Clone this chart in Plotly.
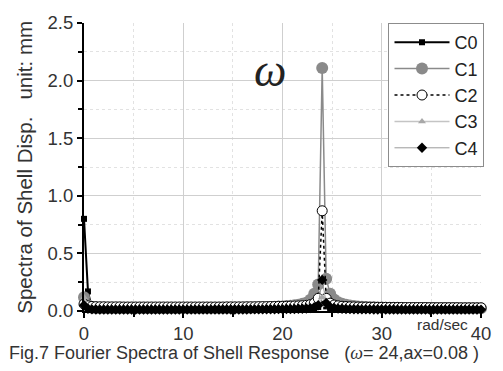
import plotly.graph_objects as go

# Frequency axis, rad/sec (step 0.4)
freq = [round(0.4 * k, 1) for k in range(101)]

# Spectral amplitudes of shell displacement, mm
c0 = [0.80, 0.17, 0.020, 0.012, 0.011, 0.010, 0.010, 0.011, 0.010, 0.010,
      0.010, 0.011, 0.010, 0.010, 0.011, 0.010, 0.010, 0.011, 0.010, 0.010,
      0.010, 0.011, 0.010, 0.010, 0.011, 0.010, 0.010, 0.011, 0.010, 0.010,
      0.010, 0.011, 0.010, 0.011, 0.011, 0.010, 0.011, 0.011, 0.010, 0.011,
      0.011, 0.011, 0.012, 0.011, 0.012, 0.012, 0.012, 0.013, 0.013, 0.013,
      0.014, 0.014, 0.015, 0.016, 0.017, 0.018, 0.020, 0.022, 0.026, 0.035,
      0.100, 0.040, 0.026, 0.021, 0.018, 0.016, 0.015, 0.014, 0.013, 0.013,
      0.012, 0.012, 0.012, 0.011, 0.011, 0.011, 0.011, 0.011, 0.010, 0.010,
      0.010, 0.010, 0.010, 0.010, 0.010, 0.010, 0.010, 0.010, 0.010, 0.010,
      0.010, 0.010, 0.010, 0.010, 0.010, 0.010, 0.010, 0.010, 0.010, 0.010,
      0.010]

c1 = [0.12, 0.05, 0.028, 0.025, 0.024, 0.024, 0.023, 0.023, 0.023, 0.023,
      0.023, 0.023, 0.023, 0.023, 0.023, 0.023, 0.023, 0.023, 0.024, 0.024,
      0.024, 0.024, 0.024, 0.024, 0.024, 0.025, 0.025, 0.025, 0.025, 0.025,
      0.025, 0.026, 0.026, 0.026, 0.026, 0.027, 0.027, 0.027, 0.028, 0.028,
      0.028, 0.029, 0.029, 0.030, 0.031, 0.032, 0.033, 0.034, 0.036, 0.038,
      0.040, 0.043, 0.046, 0.050, 0.055, 0.062, 0.072, 0.098, 0.150, 0.230,
      2.110, 0.280, 0.150, 0.100, 0.076, 0.062, 0.054, 0.048, 0.043, 0.040,
      0.037, 0.035, 0.033, 0.032, 0.031, 0.030, 0.029, 0.029, 0.028, 0.028,
      0.027, 0.027, 0.026, 0.026, 0.026, 0.025, 0.025, 0.025, 0.025, 0.024,
      0.024, 0.024, 0.024, 0.024, 0.023, 0.023, 0.023, 0.023, 0.023, 0.023,
      0.023]

c2 = [0.060, 0.045, 0.040, 0.038, 0.037, 0.037, 0.036, 0.036, 0.036, 0.036,
      0.035, 0.035, 0.035, 0.035, 0.035, 0.035, 0.035, 0.035, 0.035, 0.035,
      0.035, 0.035, 0.035, 0.035, 0.035, 0.035, 0.035, 0.035, 0.035, 0.035,
      0.035, 0.035, 0.035, 0.035, 0.035, 0.035, 0.036, 0.036, 0.036, 0.036,
      0.036, 0.037, 0.037, 0.037, 0.038, 0.038, 0.038, 0.039, 0.039, 0.040,
      0.040, 0.041, 0.042, 0.043, 0.044, 0.046, 0.049, 0.055, 0.068, 0.110,
      0.870, 0.110, 0.068, 0.052, 0.045, 0.041, 0.039, 0.037, 0.036, 0.035,
      0.034, 0.034, 0.033, 0.033, 0.032, 0.032, 0.032, 0.031, 0.031, 0.031,
      0.031, 0.030, 0.030, 0.030, 0.030, 0.030, 0.030, 0.029, 0.029, 0.029,
      0.029, 0.029, 0.029, 0.029, 0.029, 0.028, 0.028, 0.028, 0.028, 0.028,
      0.028]

c3 = [0.12, 0.040, 0.022, 0.020, 0.020, 0.019, 0.019, 0.019, 0.019, 0.019,
      0.019, 0.019, 0.019, 0.019, 0.019, 0.019, 0.019, 0.019, 0.019, 0.019,
      0.019, 0.019, 0.019, 0.019, 0.019, 0.019, 0.019, 0.019, 0.019, 0.019,
      0.019, 0.019, 0.019, 0.020, 0.020, 0.020, 0.020, 0.020, 0.020, 0.020,
      0.020, 0.020, 0.021, 0.021, 0.021, 0.021, 0.022, 0.022, 0.022, 0.023,
      0.023, 0.024, 0.024, 0.025, 0.026, 0.027, 0.029, 0.031, 0.035, 0.045,
      0.120, 0.050, 0.036, 0.030, 0.027, 0.025, 0.024, 0.023, 0.022, 0.022,
      0.021, 0.021, 0.021, 0.020, 0.020, 0.020, 0.020, 0.020, 0.020, 0.019,
      0.019, 0.019, 0.019, 0.019, 0.019, 0.019, 0.019, 0.019, 0.019, 0.019,
      0.019, 0.019, 0.019, 0.019, 0.019, 0.019, 0.019, 0.019, 0.019, 0.019,
      0.019]

c4 = [0.050, 0.020, 0.014, 0.013, 0.012, 0.012, 0.012, 0.012, 0.012, 0.012,
      0.012, 0.012, 0.012, 0.012, 0.012, 0.012, 0.012, 0.012, 0.012, 0.012,
      0.012, 0.012, 0.012, 0.012, 0.012, 0.012, 0.012, 0.012, 0.012, 0.012,
      0.012, 0.012, 0.012, 0.013, 0.013, 0.013, 0.013, 0.013, 0.013, 0.013,
      0.013, 0.013, 0.014, 0.014, 0.014, 0.014, 0.015, 0.015, 0.015, 0.016,
      0.016, 0.017, 0.017, 0.018, 0.019, 0.020, 0.022, 0.025, 0.032, 0.050,
      0.270, 0.070, 0.035, 0.026, 0.021, 0.019, 0.017, 0.016, 0.015, 0.015,
      0.014, 0.014, 0.014, 0.013, 0.013, 0.013, 0.013, 0.013, 0.013, 0.012,
      0.012, 0.012, 0.012, 0.012, 0.012, 0.012, 0.012, 0.012, 0.012, 0.012,
      0.012, 0.012, 0.012, 0.012, 0.012, 0.012, 0.012, 0.012, 0.012, 0.012,
      0.012]

series = [
    ("C0", c0, dict(color="black", width=2, dash="solid"),
     dict(symbol="square", size=6, color="black")),
    ("C1", c1, dict(color="#8a8a8a", width=1.5, dash="solid"),
     dict(symbol="circle", size=12, color="#8a8a8a")),
    ("C2", c2, dict(color="black", width=1.5, dash="dot"),
     dict(symbol="circle", size=10, color="white",
          line=dict(color="black", width=1))),
    ("C3", c3, dict(color="#c4c4c4", width=1.5, dash="solid"),
     dict(symbol="triangle-up", size=7, color="#a8a8a8")),
    ("C4", c4, dict(color="#9a9a9a", width=1, dash="solid"),
     dict(symbol="diamond", size=8, color="black")),
]

fig = go.Figure()
for name, vals, ln, mk in series:
    fig.add_trace(go.Scatter(
        x=freq, y=vals, name=name, mode="lines+markers",
        line=ln, marker=mk, cliponaxis=False,
        legendgroup=name,
    ))

sans = "Liberation Sans, Arial, sans-serif"
tick_font = dict(family=sans, size=18.5, color="#333")

fig.update_layout(
    width=503, height=371,
    margin=dict(l=84, r=17, t=15, b=60),
    paper_bgcolor="white", plot_bgcolor="white",
    showlegend=True,
    legend=dict(
        x=0.767, y=1.0, xanchor="left", yanchor="top",
        bgcolor="white", bordercolor="#8c8c8c", borderwidth=1,
        font=dict(family=sans, size=18, color="#222"),
        itemwidth=55, tracegroupgap=0,
    ),
    xaxis=dict(
        range=[0, 40], tick0=0, dtick=10,
        ticks="outside", ticklen=5, tickwidth=1.5, tickcolor="black",
        showline=True, linewidth=2, linecolor="black",
        showgrid=True, gridcolor="#cfcfcf", gridwidth=1,
        zeroline=False, tickfont=tick_font,
        minor=dict(dtick=5, ticks="outside", ticklen=4, tickcolor="black",
                   showgrid=True, gridcolor="#e2e2e2", griddash="dot"),
    ),
    yaxis=dict(
        range=[0, 2.5], tick0=0, dtick=0.5, tickformat=".1f",
        ticks="outside", ticklen=5, tickwidth=1.5, tickcolor="black",
        showline=True, linewidth=2, linecolor="black",
        showgrid=True, gridcolor="#cfcfcf", gridwidth=1,
        zeroline=False, tickfont=tick_font,
        minor=dict(dtick=0.25, ticks="outside", ticklen=4, tickcolor="black",
                   showgrid=True, gridcolor="#e2e2e2", griddash="dot"),
    ),
)

fig.add_annotation(
    text="Spectra of Shell Disp.\u00a0\u00a0\u00a0unit: mm",
    xref="paper", yref="paper", x=(23 - 84) / 402, y=0.5, textangle=-90,
    showarrow=False, xanchor="center", yanchor="middle",
    font=dict(family=sans, size=20.5, color="#333"),
)
fig.add_annotation(
    text="rad/sec", xref="paper", yref="paper", x=(447 - 84) / 402, y=-(325 - 311) / 296,
    showarrow=False, xanchor="center", yanchor="middle",
    font=dict(family=sans, size=15.5, color="#333"),
)
fig.add_annotation(
    text="<i>ω</i>", x=18.7, y=2.09, xref="x", yref="y",
    showarrow=False, xanchor="center", yanchor="middle",
    font=dict(family="Liberation Serif, DejaVu Serif, serif", size=46, color="#222"),
)
fig.add_annotation(
    text=("Fig.7 Fourier Spectra of Shell Response\u00a0\u00a0\u00a0"
          "(<span style='font-family:Liberation Serif'><i>ω</i></span>= 24,ax=0.08 )"),
    xref="paper", yref="paper", x=(6 - 84) / 402, y=-(354 - 311) / 296,
    showarrow=False, xanchor="left", yanchor="middle",
    font=dict(family=sans, size=18, color="#333"),
)

fig.write_html("out.html")
